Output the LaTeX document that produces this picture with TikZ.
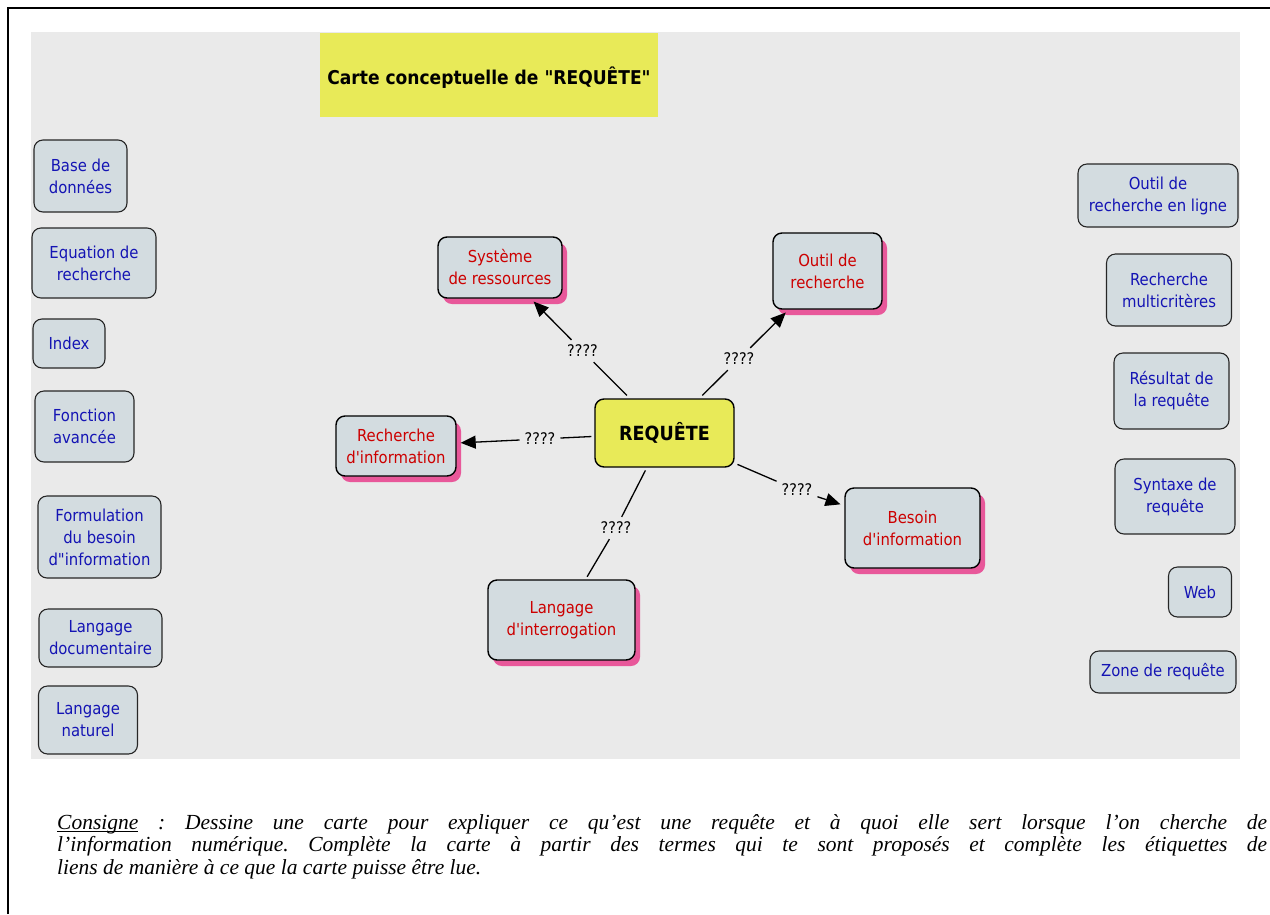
\documentclass[tikz,border=0pt]{standalone}
\usepackage{fontspec}
\setmainfont{Liberation Serif}
\newfontfamily\mapfont{DejaVu Sans Condensed}[BoldFont={DejaVu Sans Condensed Bold}]
\usetikzlibrary{shadows,arrows.meta}

\definecolor{bggray}{HTML}{EAEAEA}
\definecolor{nodefill}{HTML}{D3DCE0}
\definecolor{mapyellow}{HTML}{E8EA58}
\definecolor{shadowpink}{HTML}{E8589A}
\definecolor{mapred}{HTML}{CC0000}
\definecolor{mapblue}{HTML}{1414B4}

% underline drawn just below the baseline
\newcommand\ulword[1]{\setbox0\hbox{#1}\rlap{\rule[-2.5pt]{\wd0}{1pt}}\box0\relax}

\begin{document}
\begin{tikzpicture}[x=1pt,y=-1pt,
  nodetext/.style={font=\mapfont\fontsize{16.5}{22}\selectfont},
  concept/.style={nodetext, draw=black, line width=1.4pt, rounded corners=9pt,
    fill=nodefill, align=center, inner sep=0pt, text=mapred,
    general shadow={fill=shadowpink, shadow xshift=5pt, shadow yshift=-6pt}},
  term/.style={nodetext, draw=black!85, line width=1.1pt, rounded corners=9pt,
    fill=nodefill, align=center, inner sep=0pt, text=mapblue},
  linklabel/.style={font=\mapfont\fontsize{16}{18}\selectfont, inner sep=5pt, text=black},
  link/.style={line width=1.3pt},
  arrowlink/.style={link, -{Triangle[length=15pt,width=13pt]}, shorten >=4pt}
]
\useasboundingbox (0,0) rectangle (1270,914);

% frame and background
\draw[line width=2pt] (8,914) -- (8,8) -- (1270,8);
\fill[bggray] (31,32) rectangle (1240,759);

% title
\node[fill=mapyellow, minimum width=338pt, minimum height=84pt, inner sep=0pt] (title) at (489,75) {};
\node[font=\mapfont\bfseries\fontsize{19}{22}\selectfont] (titletext) at (489,78) {Carte conceptuelle de "REQUÊTE"};

% central concept
\node[nodetext, draw=black, line width=1.4pt, rounded corners=9pt, fill=mapyellow,
  minimum width=139pt, minimum height=68pt, inner sep=0pt,
  font=\mapfont\bfseries\fontsize{19.5}{22}\selectfont] (req) at (664.5,433) {REQUÊTE};

% linked concepts
\node[concept, minimum width=124pt, minimum height=61pt] (sys) at (500,267.5) {Système\\de ressources};
\node[concept, minimum width=109pt, minimum height=76pt] (outil) at (827.5,271) {Outil de\\recherche};
\node[concept, minimum width=120pt, minimum height=60pt] (rech) at (396,446) {Recherche\\d'information};
\node[concept, minimum width=135pt, minimum height=80pt] (besoin) at (912.5,528) {Besoin\\d'information};
\node[concept, minimum width=147pt, minimum height=80pt] (lang) at (561.5,620) {Langage\\d'interrogation};

% link labels
\node[linklabel] (l1) at (582.5,351) {????};
\node[linklabel] (l2) at (739,359) {????};
\node[linklabel] (l3) at (540,439) {????};
\node[linklabel] (l4) at (797,490) {????};
\node[linklabel] (l5) at (616,528) {????};

% connectors
\draw[link, shorten <=4pt] (req) -- (l1);
\draw[arrowlink] (l1) -- (sys);
\draw[link, shorten <=4pt] (req) -- (l2);
\draw[arrowlink] (l2) -- (outil);
\draw[link, shorten <=3pt] (req) -- (l3);
\draw[arrowlink] (l3) -- (rech);
\draw[link, shorten <=3pt] (req) -- (l4);
\draw[arrowlink] (l4) -- (besoin);
\draw[link, shorten <=3pt] (req) -- (l5);
\draw[link, shorten >=3pt] (l5) -- (lang);

% terms on the left
\node[term, minimum width=93pt, minimum height=72pt] (t1) at (80.5,176) {Base de\\données};
\node[term, minimum width=124pt, minimum height=70pt] (t2) at (94,263) {Equation de\\recherche};
\node[term, minimum width=72pt, minimum height=49pt] (t3) at (69,343.5) {Index};
\node[term, minimum width=99pt, minimum height=71pt] (t4) at (84.5,426.5) {Fonction\\avancée};
\node[term, minimum width=123pt, minimum height=82pt] (t5) at (99.5,537) {Formulation\\du besoin\\d"information};
\node[term, minimum width=123pt, minimum height=58pt] (t6) at (100.5,638) {Langage\\documentaire};
\node[term, minimum width=99pt, minimum height=68pt] (t7) at (88,720) {Langage\\naturel};

% terms on the right
\node[term, minimum width=160pt, minimum height=63pt] (r1) at (1158,195.5) {Outil de\\recherche en ligne};
\node[term, minimum width=125pt, minimum height=72pt] (r2) at (1169,290) {Recherche\\multicritères};
\node[term, minimum width=115pt, minimum height=76pt] (r3) at (1171.5,391) {Résultat de\\la requête};
\node[term, minimum width=120pt, minimum height=75pt] (r4) at (1175,496.5) {Syntaxe de\\requête};
\node[term, minimum width=63pt, minimum height=50pt] (r5) at (1200,592) {Web};
\node[term, minimum width=146pt, minimum height=42pt] (r6) at (1163,672) {Zone de requête};

% instructions below the map
\node[anchor=base west, inner sep=0pt] (instr) at (57,829) {\parbox[t]{1210pt}{\fontsize{21.5}{22.5}\selectfont\itshape\frenchspacing
\hbox to \linewidth{\ulword{Consigne} : Dessine une carte pour expliquer ce qu’est une requête et à quoi elle sert lorsque l’on cherche de}
\hbox to \linewidth{l’information numérique. Complète la carte à partir des termes qui te sont proposés et complète les étiquettes de}
liens de manière à ce que la carte puisse être lue.}};
\end{tikzpicture}
\end{document}
